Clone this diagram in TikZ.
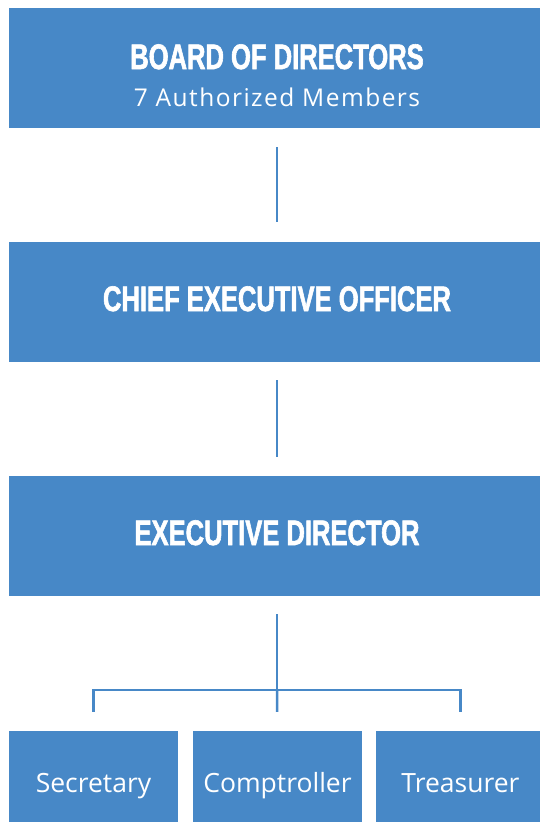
\documentclass[tikz,border=0pt]{standalone}
\usepackage{fontspec}
\usetikzlibrary{positioning}
\definecolor{orgblue}{RGB}{71,136,199}
\newfontfamily\headfont[FakeStretch=0.72,FakeBold=1.6]{Liberation Sans}
\newfontfamily\bodyfont{Open Sans}
\newfontfamily\wideopen[LetterSpace=6]{Open Sans}

\begin{document}
\begin{tikzpicture}[x=1pt, y=-1pt,
    box/.style={fill=orgblue, text=white, inner sep=0pt, minimum width=536pt, minimum height=120pt,
      font=\headfont\bfseries\fontsize{35.5}{38}\selectfont, text height=24pt, text depth=6pt},
    unit/.style={fill=orgblue, text=white, inner sep=0pt, minimum width=169pt, minimum height=91pt,
      font=\bodyfont\fontsize{26.5}{30}\selectfont, text height=31pt, text depth=0pt},
    link/.style={draw=orgblue, line width=2.5pt}]
  \useasboundingbox (0,0) rectangle (540,822);

  % Nodos
  \node[box, text depth=22pt] (board) at (277,68) {BOARD OF DIRECTORS};
  \node[text=white, inner sep=0pt, anchor=base, font=\wideopen\fontsize{24.5}{28}\selectfont] (members) at (277,106) {7 Authorized Members};
  \node[box] (ceo) at (277,302) {CHIEF EXECUTIVE OFFICER};
  \node[box] (ed) at (277,536) {EXECUTIVE DIRECTOR};
  \node[unit] (sec) at (93.5,776.5) {Secretary};
  \node[unit] (comp) at (277.5,776.5) {Comptroller};
  \node[unit] (treas) at (460.5,776.5) {Treasurer};
  \coordinate (fork) at (277,690);

  % Aristas
  \draw[link, shorten <=19pt, shorten >=20pt] (board) -- (ceo);
  \draw[link, shorten <=18pt, shorten >=19pt] (ceo) -- (ed);
  \draw[link, shorten <=18pt] (ed) -- (fork);
  \draw[link, shorten >=19pt] (fork) -| (sec);
  \draw[link, shorten >=19pt] (fork) -- (comp);
  \draw[link, shorten >=19pt] (fork) -| (treas);
\end{tikzpicture}
\end{document}
